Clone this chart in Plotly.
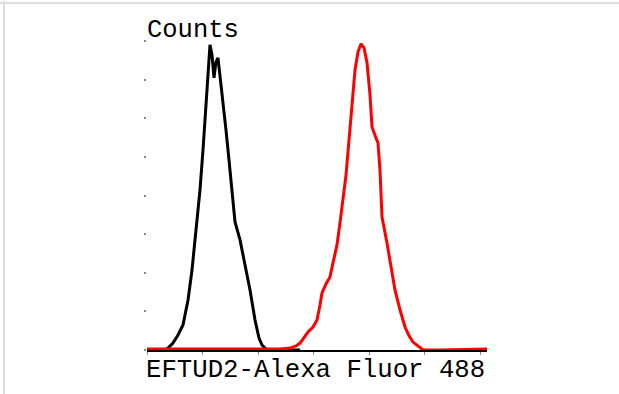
import plotly.graph_objects as go

# Fluorescence intensity (log decades) and counts
black_x = [0, 0.234, 0.36, 0.468, 0.559, 0.649, 0.739, 0.811, 0.883, 0.955, 1.009, 1.063, 1.099, 1.135,
           1.171, 1.207, 1.243, 1.279, 1.315, 1.369, 1.423, 1.477, 1.532, 1.586, 1.676, 1.766, 1.856,
           1.946, 2.018, 2.072, 2.162, 2.757]
black_y = [0, 0, 0.5, 3.6, 7.8, 13, 25.9, 41.4, 62.2, 82.9, 103.6, 124.3, 142.5, 158,
           152.8, 140.9, 149.2, 151.3, 142.5, 129.5, 114, 98.4, 82.9, 66.3, 57, 44, 31.1,
           15.5, 6.2, 2.6, 0, 0]

red_x = [0, 0.955, 1.856, 2.396, 2.577, 2.685, 2.757, 2.829, 2.901, 2.991, 3.063, 3.117, 3.153, 3.225,
         3.297, 3.351, 3.423, 3.477, 3.532, 3.586, 3.640, 3.694, 3.748, 3.802, 3.856, 3.910, 3.964,
         4.018, 4.054, 4.126, 4.162, 4.198, 4.234, 4.324, 4.396, 4.468, 4.559, 4.649, 4.721, 4.793,
         4.883, 4.973, 5.279, 6.126]
red_y = [0.5, 0.5, 0.5, 0.5, 1.0, 2.1, 3.6, 6.2, 9.3, 11.9, 15.5, 23.3, 29.5, 34.2,
         37.8, 45.1, 54.4, 65.8, 77.7, 90.7, 108.8, 127.9, 145, 154.4, 158.5, 156.4, 148.7,
         132.1, 115.5, 109.8, 107.2, 93.2, 68.9, 55.4, 44, 31.1, 20.7, 11.9, 7.3, 4.1,
         2.1, 0, 0, 0.5]

x_ticks = [0, 1, 2, 3, 4, 5, 6]
y_ticks = [0, 20, 40, 60, 80, 100, 120, 140, 160]
x_title = "EFTUD2-Alexa Fluor 488"
y_title = "Counts"

FONT = "Liberation Mono"

fig = go.Figure()
fig.add_trace(go.Scatter(x=black_x, y=black_y, mode="lines",
                         line=dict(color="#000000", width=3), cliponaxis=False))
fig.add_trace(go.Scatter(x=red_x, y=red_y, mode="lines",
                         line=dict(color="#ff0000", width=3), cliponaxis=False))

fig.update_layout(
    width=619, height=394,
    margin=dict(l=147, r=132, t=41, b=44),
    paper_bgcolor="white", plot_bgcolor="white",
    showlegend=False,
    xaxis=dict(range=[0, 6.126], showgrid=False, zeroline=False, showline=True,
               linecolor="#000000", linewidth=1.5, ticks="outside", ticklen=3,
               tickcolor="#888888", tickwidth=1, tickvals=x_ticks, showticklabels=False),
    yaxis=dict(range=[0, 160], showgrid=False, zeroline=False, showline=False,
               ticks="outside", ticklen=2, tickcolor="#888888", tickwidth=1.5,
               tickvals=y_ticks, showticklabels=False),
    annotations=[
        dict(text=x_title, xref="paper", yref="paper", x=0, y=0, xanchor="left", yanchor="top",
             yshift=-4, xshift=-3, showarrow=False, font=dict(family=FONT, size=25.7, color="#000")),
        dict(text=y_title, xref="paper", yref="paper", x=0, y=1, xanchor="left", yanchor="bottom",
             yshift=-6, xshift=-2, showarrow=False, font=dict(family=FONT, size=25.5, color="#000")),
    ],
    shapes=[
        dict(type="line", xref="paper", yref="paper", x0=-0.45, x1=1.4, y0=1.123, y1=1.123,
             line=dict(color="#dddddd", width=2)),
        dict(type="line", xref="paper", yref="paper", x0=-0.4206, x1=-0.4206, y0=-0.2, y1=1.13,
             line=dict(color="#dddddd", width=2)),
    ],
)

fig.write_html("out.html", config={"displayModeBar": False},
               post_script="document.body.style.margin='0';")
